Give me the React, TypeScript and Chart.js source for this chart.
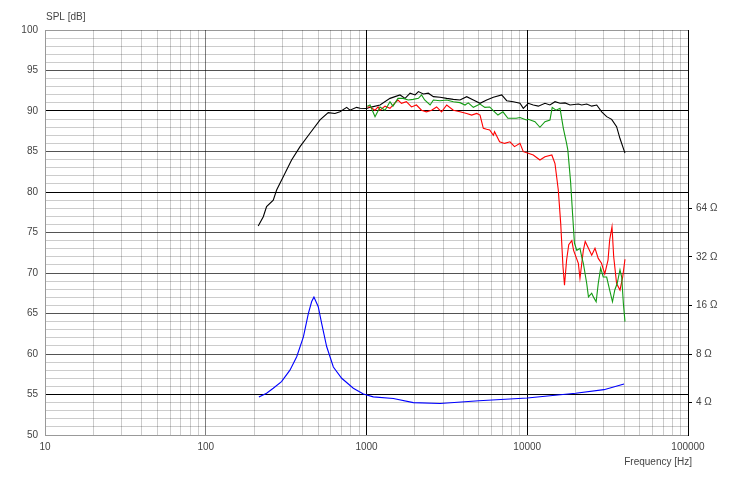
import { useEffect, useRef } from "react";
import { Chart, registerables } from "chart.js";
Chart.register(...registerables);

// on-axis SPL (black)
const freqBlack = [212, 228, 239, 263, 276, 304, 342, 386, 445, 514, 578, 636, 684, 753, 789, 868, 912, 1003, 1052, 1214, 1400, 1616, 1738, 1867, 2006, 2104, 2256, 2424, 2607, 2867, 3155, 3470, 3816, 4200, 4620, 5084, 5594, 6155, 6935, 7451, 8190, 9012, 9450, 10150, 10900, 11720, 12890, 13840, 14880, 15990, 17180, 18460, 20800, 21810, 23440, 25180, 27050, 29060, 31190, 33500, 35970, 37750, 40550];
const splBlack = [75.8, 76.95, 78.2, 79.0, 80.25, 81.9, 83.95, 85.6, 87.25, 88.9, 89.8, 89.7, 89.9, 90.45, 90.1, 90.45, 90.33, 90.3, 90.45, 90.74, 91.56, 91.98, 91.56, 92.2, 91.98, 92.4, 92.1, 92.2, 91.77, 91.7, 91.56, 91.44, 91.36, 91.77, 91.36, 90.95, 91.36, 91.7, 91.98, 91.27, 91.15, 90.95, 90.33, 90.95, 90.74, 90.6, 90.95, 90.74, 91.15, 90.95, 91.0, 90.74, 90.86, 90.74, 90.86, 90.6, 90.74, 89.9, 89.3, 88.97, 88.07, 86.6, 84.8];

// green
const freqGreen = [1012, 1052, 1130, 1214, 1304, 1400, 1460, 1570, 1690, 1820, 1950, 2104, 2200, 2300, 2487, 2607, 2867, 3155, 3470, 3816, 4100, 4295, 4620, 5084, 5450, 5840, 6260, 6570, 7060, 7580, 8540, 9012, 9870, 10150, 11170, 11990, 12890, 13840, 14300, 15100, 15990, 16770, 17570, 17880, 18600, 19190, 19660, 20340, 21280, 21820, 22330, 23440, 24030, 25180, 25790, 26830, 27650, 28620, 29700, 31190, 32570, 33900, 35040, 36250, 37750, 38680, 39620, 40550];
const splGreen = [90.6, 90.74, 89.3, 90.5, 90.1, 91.15, 90.6, 91.56, 91.56, 91.36, 91.44, 91.56, 91.98, 91.36, 90.74, 91.36, 91.27, 91.36, 91.15, 91.03, 90.74, 91.0, 90.45, 90.86, 90.45, 90.5, 89.9, 89.5, 89.9, 89.1, 89.1, 89.2, 88.9, 88.97, 88.68, 87.99, 88.68, 88.89, 90.45, 90.1, 90.33, 87.86, 86.0, 85.2, 81.3, 76.95, 73.7, 72.8, 73.05, 72.0, 71.2, 68.7, 67.05, 67.5, 67.05, 66.45, 68.7, 70.6, 69.5, 69.5, 67.9, 66.45, 67.9, 68.7, 70.4, 69.5, 66.25, 64.0];

// red
const freqRed = [1012, 1052, 1130, 1180, 1214, 1304, 1400, 1504, 1570, 1650, 1770, 1905, 2045, 2200, 2360, 2540, 2730, 2930, 3155, 3470, 3816, 4200, 4510, 4850, 5084, 5330, 5594, 5840, 6155, 6260, 6730, 7230, 7810, 8330, 9012, 9450, 10150, 10900, 11990, 12890, 14220, 14880, 15600, 16150, 16680, 17050, 17570, 18120, 18940, 19420, 20790, 21280, 22330, 22940, 24030, 25180, 26390, 27650, 28970, 30350, 31800, 32570, 33670, 34500, 35960, 37750, 39230, 40550];
const splRed = [90.5, 90.5, 90.1, 90.5, 90.1, 90.6, 90.33, 91.0, 91.36, 90.95, 91.15, 90.5, 90.74, 90.1, 89.9, 90.1, 90.5, 89.9, 90.74, 90.1, 89.9, 89.7, 89.5, 89.7, 89.5, 87.86, 87.74, 87.65, 87.0, 87.45, 86.2, 86.0, 86.2, 85.6, 86.0, 84.98, 84.78, 84.57, 83.95, 84.36, 84.57, 83.5, 80.25, 76.1, 70.8, 68.5, 71.6, 73.5, 74.0, 72.8, 71.2, 69.35, 72.8, 73.9, 73.05, 72.2, 73.05, 71.8, 71.2, 69.9, 71.6, 74.1, 75.7, 72.0, 68.7, 67.9, 69.5, 71.7];

// impedance (blue, ohms)
const freqImp = [214, 239, 263, 296, 334, 368, 405, 435, 456, 471, 501, 526, 565, 622, 701, 828, 956, 1102, 1469, 1955, 2867, 5000, 10000, 20000, 30000, 40000];
const ohms = [4.34, 4.57, 4.91, 5.4, 6.35, 7.7, 10.2, 14.3, 16.9, 18.0, 15.7, 12.4, 8.9, 6.65, 5.66, 4.91, 4.52, 4.34, 4.24, 4.0, 3.95, 4.11, 4.27, 4.57, 4.81, 5.22];

const decades = [10, 100, 1000, 10000, 100000];
const ohmTicks = [4, 8, 16, 32, 64];

const pts = (xs: number[], ys: number[]) => xs.map((x, i) => ({ x, y: ys[i] }));

const FONT = "'Liberation Sans', Arial, sans-serif";
const MINOR = "rgba(0,0,0,0.2)";

export default function App() {
  const ref = useRef<HTMLCanvasElement | null>(null);
  useEffect(() => {
    if (!ref.current) return;
    const xGrid: number[] = [];
    decades.forEach((d) => {
      for (let m = 1; m <= 9; m++) if (m * d <= 100000) xGrid.push(m * d);
    });
    const titles = {
      id: "titles",
      afterDraw(chart: any) {
        const c = chart.ctx;
        c.save();
        c.font = `10px ${FONT}`;
        c.fillStyle = "#444";
        c.textBaseline = "middle";
        c.textAlign = "left";
        c.fillText("SPL [dB]", 46, 17);
        c.textAlign = "right";
        c.fillText("Frequency [Hz]", 692, 462);
        c.restore();
      },
    };
    const line = (data: any, color: string, axis = "y") => ({
      data,
      borderColor: color,
      borderWidth: 1.1,
      pointRadius: 0,
      tension: 0,
      fill: false,
      yAxisID: axis,
    });
    const ch = new Chart(ref.current, {
      type: "line",
      data: {
        datasets: [
          line(pts(freqImp, ohms), "#0000ff", "yR"),
          line(pts(freqGreen, splGreen), "#139b13"),
          line(pts(freqRed, splRed), "#ff0000"),
          line(pts(freqBlack, splBlack), "#000000"),
        ],
      },
      options: {
        responsive: false,
        animation: false,
        devicePixelRatio: 1,
        layout: { padding: { top: 30, left: 0, right: 0, bottom: 0 } },
        plugins: { legend: { display: false }, tooltip: { enabled: false } },
        scales: {
          x: {
            type: "logarithmic",
            min: 10,
            max: 100000,
            afterBuildTicks: (s: any) => {
              s.ticks = xGrid.map((v) => ({ value: v }));
            },
            afterFit: (s: any) => {
              s.height = 62;
            },
            ticks: {
              autoSkip: false,
              maxRotation: 0,
              padding: 6,
              color: "#444",
              font: { family: FONT, size: 10 },
              callback: (v: any) => (decades.includes(Number(v)) ? String(v) : ""),
            },
            grid: {
              drawTicks: false,
              color: (c: any) => {
                const v = c.tick?.value;
                if (v === 1000 || v === 10000) return "#000";
                return decades.includes(v) ? "rgba(0,0,0,0.5)" : MINOR;
              },
            },
            border: { color: "#999" },
          },
          y: {
            type: "linear",
            min: 50,
            max: 100,
            afterFit: (s: any) => {
              s.width = 45;
            },
            ticks: {
              stepSize: 1,
              maxTicksLimit: 100,
              autoSkip: false,
              padding: 7,
              color: "#444",
              font: { family: FONT, size: 10 },
              callback: (v: any) => (Number(v) % 5 === 0 ? String(v) : ""),
            },
            grid: {
              drawTicks: false,
              color: (c: any) => {
                const v = c.tick?.value;
                if (v === 90 || v === 80 || v === 55) return "#000";
                if (v === 100 || v === 50) return "rgba(0,0,0,0.4)";
                return v % 5 === 0 ? "rgba(0,0,0,0.67)" : MINOR;
              },
            },
            border: { color: "#999" },
          },
          yR: {
            type: "logarithmic",
            position: "right",
            min: 4 * Math.pow(2, -4 / 6),
            max: 4 * Math.pow(2, 46 / 6),
            afterBuildTicks: (s: any) => {
              s.ticks = ohmTicks.map((v) => ({ value: v }));
            },
            afterFit: (s: any) => {
              s.width = 51;
            },
            ticks: {
              autoSkip: false,
              padding: 4,
              color: "#444",
              font: { family: FONT, size: 10 },
              callback: (v: any) => `${v} Ω`,
            },
            grid: { drawOnChartArea: false, drawTicks: true, tickLength: 4, color: "#000" },
            border: { color: "#000" },
          },
        },
      },
      plugins: [titles],
    } as any);
    return () => ch.destroy();
  }, []);
  return (
    <div style={{ position: "absolute", left: 0, top: 0, width: 739, height: 497, background: "#fff" }}>
      <canvas ref={ref} width={739} height={497}></canvas>
    </div>
  );
}
